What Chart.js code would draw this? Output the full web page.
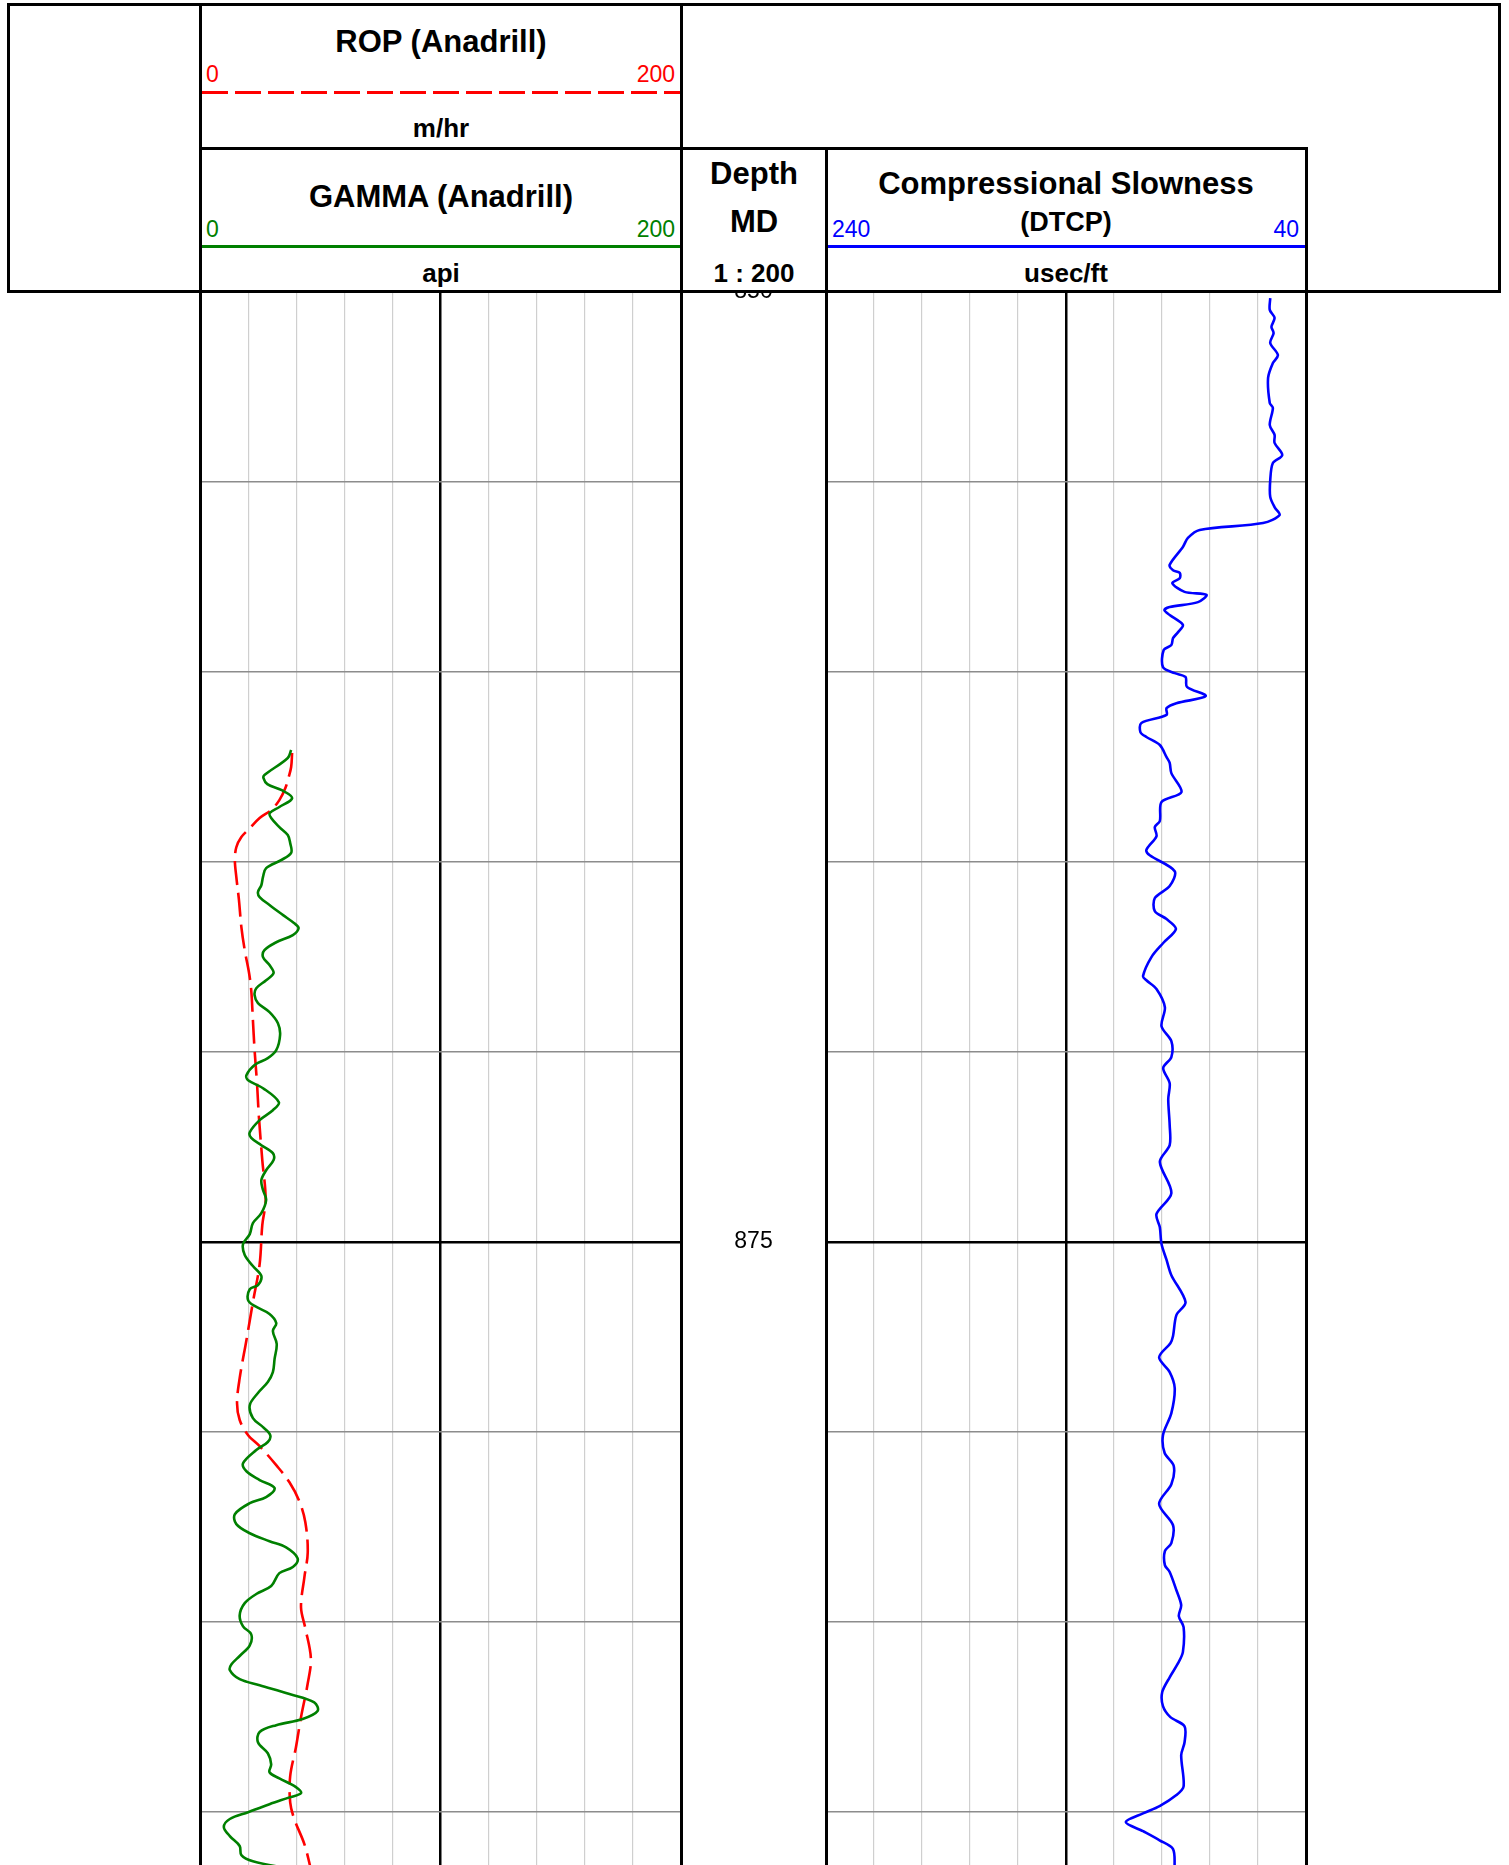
<!DOCTYPE html>
<html>
<head>
<meta charset="utf-8">
<script src="https://cdn.jsdelivr.net/npm/chart.js@4.4.1/dist/chart.umd.min.js"></script>
<style>
  html, body { margin: 0; padding: 0; background: #fff; }
  #page { position: relative; width: 1509px; height: 1865px; overflow: hidden; background: #fff;
          font-family: "Liberation Sans", Arial, Helvetica, sans-serif; }
  .ln { position: absolute; background: #000; z-index: 5; }
  .tx { position: absolute; white-space: nowrap; line-height: 1; z-index: 6; }
  .c { transform: translate(-50%, -50%); }
  .l { transform: translate(0, -50%); }
  .r { transform: translate(-100%, -50%); }
  .b { font-weight: bold; }
  .box { position: absolute; z-index: 1; }
  canvas { display: block; }
</style>
</head>
<body>
<script>
// ---------------- DATA ----------------
const depthRange = [850, 891.39];          // m, top and bottom of the visible depth window
const depthLabels = [850, 875];             // depth track labels
const ropScale = [0, 200];                  // m/hr
const gammaScale = [0, 200];                // api
const dtcpScale = [240, 40];                // usec/ft (left, right)

const gammaDepth = [862.05,862.26,862.71,862.79,862.95,863.11,863.32,863.55,863.71,863.84,864.08,864.29,864.50,864.76,864.95,865.16,865.39,865.61,865.79,865.92,866.13,866.39,866.61,866.74,866.92,867.11,867.32,867.50,867.71,867.92,868.11,868.32,868.50,868.71,868.95,869.24,869.55,869.95,870.16,870.34,870.61,870.74,870.95,871.32,871.53,871.79,872.11,872.26,872.45,872.66,872.84,873.11,873.37,873.63,873.89,874.24,874.50,874.79,875.05,875.34,875.63,875.89,876.13,876.24,876.53,876.68,876.89,877.13,877.34,877.68,878.08,878.42,878.68,878.97,879.29,879.63,879.87,880.08,880.26,880.47,880.82,881.03,881.26,881.47,881.71,881.87,882.16,882.42,882.66,882.87,883.03,883.32,883.55,883.71,884.05,884.26,884.50,884.82,885.11,885.32,885.61,885.89,886.11,886.26,886.50,886.66,886.89,887.11,887.34,887.55,887.71,887.89,888.16,888.45,888.74,888.95,889.11,889.34,889.50,889.61,889.79,890.00,890.18,890.39,890.63,890.89,891.13,891.29,891.50];
const gammaApi = [37.9,36.5,26.8,26.4,28.0,34.0,38.3,33.0,29.0,29.6,33.0,36.5,37.5,37.9,33.7,27.5,26.2,25.5,24.1,24.8,28.9,34.4,39.2,41.0,38.6,31.7,26.8,26.2,28.9,30.6,27.5,23.4,22.7,24.1,28.9,32.4,33.3,31.7,28.2,22.7,19.3,20.0,26.2,32.8,30.3,24.8,20.7,21.3,25.5,30.3,30.6,27.5,25.5,26.2,27.5,25.5,22.0,20.7,17.9,18.6,22.0,25.5,24.1,20.7,20.0,22.7,28.9,31.7,30.3,31.9,31.0,30.3,28.2,24.1,20.7,22.0,26.2,29.2,28.2,23.4,17.9,19.3,24.8,31.0,27.5,20.7,14.5,15.1,20.7,28.9,35.8,40.6,38.6,33.0,29.6,23.4,18.6,16.5,17.9,21.3,20.7,16.5,13.1,12.4,16.5,24.8,37.2,47.5,48.9,42.7,31.7,24.8,24.1,28.2,29.6,28.9,33.0,39.9,42.0,37.2,28.9,20.0,12.4,9.9,12.4,16.5,17.2,22.0,38.0];

const ropDepth = [862.13,862.50,862.76,863.05,863.37,863.63,863.84,864.11,864.34,864.61,864.95,865.39,866.00,866.71,867.32,867.92,868.37,869.16,869.95,870.82,871.71,872.84,873.89,874.55,875.58,876.58,877.58,878.58,879.24,879.68,880.08,880.37,880.87,881.32,881.82,882.37,883.16,883.82,884.61,885.16,885.95,886.61,887.50,888.29,889.05,889.74,890.18,890.84,891.47];
const ropRate = [38.3,37.9,36.9,35.5,33.0,29.6,24.8,20.7,17.2,15.1,14.5,15.1,16.2,17.2,18.6,20.4,21.3,22.0,22.7,23.7,24.5,25.9,27.3,25.9,24.8,22.0,19.3,16.5,15.4,16.5,20.0,24.8,31.7,37.2,41.3,43.8,44.8,43.4,42.0,43.8,46.1,44.8,42.0,39.9,37.5,37.5,39.2,43.4,46.0];

const dtcpDepth = [850.16,850.47,850.68,850.92,851.08,851.34,851.66,851.87,852.26,852.92,853.05,853.50,853.76,853.97,854.29,854.50,854.95,855.39,855.66,855.87,856.08,856.26,856.47,856.71,857.18,857.32,857.39,857.53,857.66,857.89,857.97,858.16,858.29,858.37,858.50,858.76,858.95,859.11,859.29,859.42,859.87,860.03,860.13,860.39,860.63,860.82,860.95,861.13,861.34,861.58,861.71,861.92,862.24,862.39,862.66,863.16,863.42,863.92,864.08,864.32,864.68,864.82,865.24,865.63,865.95,866.29,866.50,866.76,867.13,867.50,868.00,868.11,868.34,868.82,869.32,869.71,870.13,870.42,870.82,871.24,871.92,872.45,872.89,873.71,874.26,874.61,875.05,875.47,875.87,876.58,876.92,877.47,877.66,878.03,878.42,878.84,879.50,880.08,880.55,880.89,881.37,881.89,882.45,882.92,883.13,883.50,883.68,884.16,884.55,884.84,885.13,885.79,886.08,886.45,886.84,887.21,887.50,887.74,888.16,888.50,889.32,889.55,889.84,890.03,890.26,890.50,890.74,890.97,891.47];
const dtcpSlowness = [54.9,55.1,53.1,54.4,53.5,54.9,51.7,53.8,55.8,55.1,53.8,55.1,53.1,53.1,49.9,53.8,54.9,54.9,53.1,51.0,57.9,84.3,89.2,91.3,96.8,95.4,92.6,92.6,95.7,90.6,81.5,85.0,96.8,99.0,96.8,91.3,93.3,95.4,96.1,99.3,99.6,94.7,90.2,89.6,81.8,94.0,98.1,98.1,108.6,109.0,106.5,100.9,98.1,96.8,96.1,91.9,100.2,100.9,103.0,102.3,106.5,105.1,94.7,96.8,103.0,103.0,98.1,94.2,99.5,104.4,107.9,106.5,102.3,98.8,100.2,96.1,96.1,99.5,96.8,97.4,96.8,96.8,100.9,96.1,102.3,100.9,100.2,98.1,96.1,90.2,94.0,95.4,96.5,101.2,96.8,94.7,96.1,99.6,98.9,95.1,96.1,101.2,95.4,96.1,98.8,98.8,96.8,94.0,92.0,93.0,91.0,91.3,93.3,96.8,99.9,99.6,96.5,90.6,90.6,92.0,91.0,94.0,101.0,107.9,115.1,107.9,101.0,95.4,94.7];
</script>

<div id="page">
  <!-- chart containers -->
  <div class="box" style="left:200px;top:292px;width:481px;height:1573px;"><canvas id="t1" width="481" height="1573"></canvas></div>
  <div class="box" style="left:681px;top:292px;width:145px;height:1573px;"><canvas id="td" width="145" height="1573"></canvas></div>
  <div class="box" style="left:826px;top:292px;width:480px;height:1573px;"><canvas id="t3" width="480" height="1573"></canvas></div>

  <!-- frame lines -->
  <div class="ln" style="left:7px;top:3px;width:1494px;height:3px;"></div>
  <div class="ln" style="left:7px;top:290px;width:1494px;height:3px;"></div>
  <div class="ln" style="left:7px;top:3px;width:3px;height:290px;"></div>
  <div class="ln" style="left:1498px;top:3px;width:3px;height:290px;"></div>
  <div class="ln" style="left:199px;top:3px;width:3px;height:1862px;"></div>
  <div class="ln" style="left:680px;top:3px;width:3px;height:1862px;"></div>
  <div class="ln" style="left:199px;top:147px;width:1109px;height:3px;"></div>
  <div class="ln" style="left:825px;top:147px;width:3px;height:1718px;"></div>
  <div class="ln" style="left:1305px;top:147px;width:3px;height:1718px;"></div>

  <!-- ROP header -->
  <div class="tx c b" style="left:441px;top:41px;font-size:31px;">ROP (Anadrill)</div>
  <div class="tx l" id="ropMin" style="left:206px;top:74px;font-size:23px;color:#ff0000;"></div>
  <div class="tx r" id="ropMax" style="left:675px;top:74px;font-size:23px;color:#ff0000;"></div>
  <div class="ln" style="left:202px;top:91px;width:478px;height:3px;background:repeating-linear-gradient(to right,#ff0000 0 26px,transparent 26px 33px);"></div>
  <div class="tx c b" style="left:441px;top:128px;font-size:26px;">m/hr</div>

  <!-- GAMMA header -->
  <div class="tx c b" style="left:441px;top:196px;font-size:31px;">GAMMA (Anadrill)</div>
  <div class="tx l" id="grMin" style="left:206px;top:229px;font-size:23px;color:#008000;"></div>
  <div class="tx r" id="grMax" style="left:675px;top:229px;font-size:23px;color:#008000;"></div>
  <div class="ln" style="left:202px;top:245px;width:478px;height:3px;background:#008000;"></div>
  <div class="tx c b" style="left:441px;top:273px;font-size:26px;">api</div>

  <!-- Depth header -->
  <div class="tx c b" style="left:754px;top:173px;font-size:31px;">Depth</div>
  <div class="tx c b" style="left:754px;top:221px;font-size:31px;">MD</div>
  <div class="tx c b" style="left:754px;top:273px;font-size:26px;">1 : 200</div>

  <!-- DTCP header -->
  <div class="tx c b" style="left:1066px;top:183px;font-size:31px;">Compressional Slowness</div>
  <div class="tx c b" style="left:1066px;top:222px;font-size:27px;">(DTCP)</div>
  <div class="tx l" id="dtMin" style="left:832px;top:229px;font-size:23px;color:#0000ff;"></div>
  <div class="tx r" id="dtMax" style="left:1299px;top:229px;font-size:23px;color:#0000ff;"></div>
  <div class="ln" style="left:828px;top:245px;width:477px;height:3px;background:#0000ff;"></div>
  <div class="tx c b" style="left:1066px;top:273px;font-size:26px;">usec/ft</div>
</div>

<script>
document.getElementById('ropMin').textContent = ropScale[0];
document.getElementById('ropMax').textContent = ropScale[1];
document.getElementById('grMin').textContent = gammaScale[0];
document.getElementById('grMax').textContent = gammaScale[1];
document.getElementById('dtMin').textContent = dtcpScale[0];
document.getElementById('dtMax').textContent = dtcpScale[1];

const pts = (ds, vs) => ds.map((d, i) => ({ x: vs[i], y: d }));

function depthAxis(showGrid) {
  return {
    type: 'linear', min: depthRange[0], max: depthRange[1], reverse: true,
    ticks: { display: false, stepSize: 5 },
    afterBuildTicks: s => { s.ticks = s.ticks.filter(t => Math.abs(t.value % 5) < 1e-6); },
    grid: {
      display: showGrid, drawTicks: false,
      color: c => (c.tick && c.tick.value === 875) ? '#000000' : '#8c8c8c',
      lineWidth: c => (c.tick && c.tick.value === 875) ? 2.5 : 1.5
    },
    border: { display: false }
  };
}
function valueAxis(lo, hi, mid) {
  const rev = lo > hi;
  return {
    type: 'linear', min: Math.min(lo, hi), max: Math.max(lo, hi), reverse: rev,
    ticks: { display: false, stepSize: 20 },
    grid: {
      drawTicks: false,
      color: c => (c.tick && c.tick.value === mid) ? '#000000' : '#cfcfcf',
      lineWidth: c => (c.tick && c.tick.value === mid) ? 2.5 : 1.2
    },
    border: { display: false }
  };
}
const common = {
  responsive: false, animation: false, devicePixelRatio: 1,
  layout: { padding: 0 },
  plugins: { legend: { display: false }, tooltip: { enabled: false } },
  elements: { point: { radius: 0 } }
};

new Chart(document.getElementById('t1'), {
  type: 'scatter',
  data: { datasets: [
    { label: 'GAMMA', data: pts(gammaDepth, gammaApi), showLine: true, borderColor: '#008000',
      borderWidth: 2.6, tension: 0.35, pointRadius: 0, fill: false },
    { label: 'ROP', data: pts(ropDepth, ropRate), showLine: true, borderColor: '#ff0000',
      borderWidth: 2.6, borderDash: [24, 8], tension: 0.35, pointRadius: 0, fill: false }
  ]},
  options: Object.assign({}, common, {
    scales: { x: valueAxis(gammaScale[0], gammaScale[1], 100), y: depthAxis(true) }
  })
});

new Chart(document.getElementById('t3'), {
  type: 'scatter',
  data: { datasets: [
    { label: 'DTCP', data: pts(dtcpDepth, dtcpSlowness), showLine: true, borderColor: '#0000ff',
      borderWidth: 2.6, tension: 0.3, pointRadius: 0, fill: false }
  ]},
  options: Object.assign({}, common, {
    scales: { x: valueAxis(dtcpScale[0], dtcpScale[1], 140), y: depthAxis(true) }
  })
});

const depthLabelPlugin = {
  id: 'depthLabels',
  afterDraw(chart) {
    const ctx = chart.ctx, y = chart.scales.y, a = chart.chartArea;
    ctx.save();
    ctx.fillStyle = '#000';
    ctx.font = '23px "Liberation Sans", Arial, sans-serif';
    ctx.textAlign = 'center';
    ctx.textBaseline = 'middle';
    depthLabels.forEach(d => ctx.fillText(String(d), (a.left + a.right) / 2, y.getPixelForValue(d)));
    ctx.restore();
  }
};
new Chart(document.getElementById('td'), {
  type: 'scatter',
  data: { datasets: [] },
  options: Object.assign({}, common, {
    scales: {
      x: { min: 0, max: 1, display: false },
      y: Object.assign(depthAxis(false), { display: false })
    }
  }),
  plugins: [depthLabelPlugin]
});
</script>
</body>
</html>
